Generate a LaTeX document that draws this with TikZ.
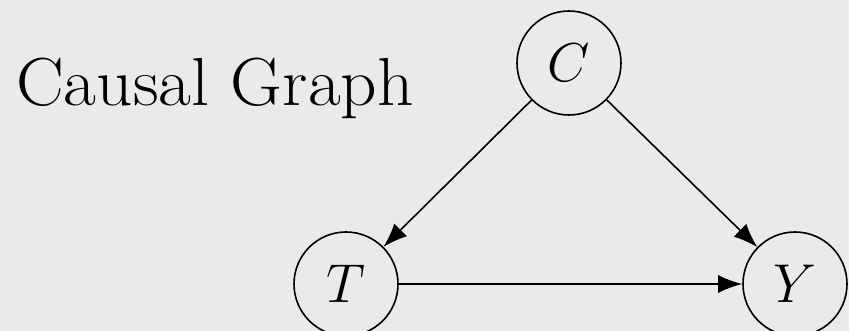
\documentclass[tikz,border=0pt]{standalone}
\usetikzlibrary{arrows.meta}
\definecolor{bg}{HTML}{EAEAEA}
\newcommand{\bigvar}[1]{\scalebox{2.2}{$#1$}}
\begin{document}
\begin{tikzpicture}[x=1pt,y=-1pt,
  var/.style={draw=black,line width=1.6pt,circle,minimum size=104pt,inner sep=0pt,font=\fontsize{24.88}{30}\selectfont},
  edge/.style={line width=1.6pt,-{Latex[length=24pt,width=18pt]}}]
\fill[bg] (0,0) rectangle (849,331);
\useasboundingbox (0,0) rectangle (849,331);
\node[anchor=base west,inner sep=0pt,font=\fontsize{68}{72}\selectfont] (title) at (16,106) {\scalebox{1.05}[1]{Causal Graph}};
\node[var] (C) at (569,63) {\bigvar{C}};
\node[var] (T) at (346,284) {\bigvar{T}};
\node[var] (Y) at (795,284) {\bigvar{Y}};
\draw[edge] (C) -- (T);
\draw[edge] (C) -- (Y);
\draw[edge] (T) -- (Y);
\end{tikzpicture}
\end{document}
